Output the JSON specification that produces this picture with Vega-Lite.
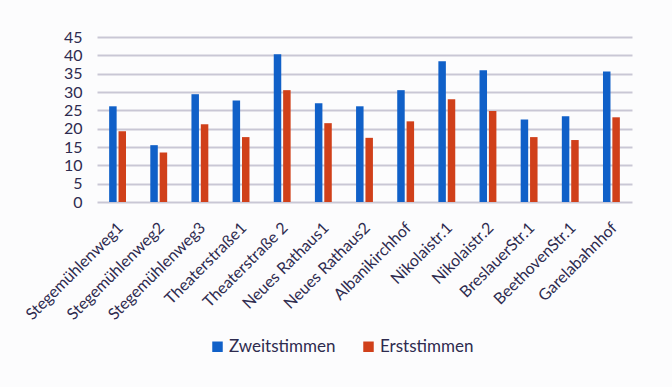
{
  "$schema": "https://vega.github.io/schema/vega-lite/v6.json",
  "autosize": {"type": "none"},
  "width": 535,
  "height": 165,
  "padding": {"left": 97, "top": 37, "right": 40, "bottom": 185},
  "background": "#fcfcfd",
  "config": {
    "view": {"stroke": null},
    "font": "Lato",
    "axis": {"labelColor": "#2e2b4f", "labelFont": "Lato"},
    "legend": {"labelColor": "#2e2b4f", "labelFont": "Lato"}
  },
  "data": {
    "values": [
      {"ort": "Stegemühlenweg1", "serie": "Zweitstimmen", "wert": 26.1},
      {"ort": "Stegemühlenweg1", "serie": "Erststimmen", "wert": 19.3},
      {"ort": "Stegemühlenweg2", "serie": "Zweitstimmen", "wert": 15.5},
      {"ort": "Stegemühlenweg2", "serie": "Erststimmen", "wert": 13.5},
      {"ort": "Stegemühlenweg3", "serie": "Zweitstimmen", "wert": 29.4},
      {"ort": "Stegemühlenweg3", "serie": "Erststimmen", "wert": 21.2},
      {"ort": "Theaterstraße1", "serie": "Zweitstimmen", "wert": 27.7},
      {"ort": "Theaterstraße1", "serie": "Erststimmen", "wert": 17.7},
      {"ort": "Theaterstraße 2", "serie": "Zweitstimmen", "wert": 40.3},
      {"ort": "Theaterstraße 2", "serie": "Erststimmen", "wert": 30.5},
      {"ort": "Neues Rathaus1", "serie": "Zweitstimmen", "wert": 26.9},
      {"ort": "Neues Rathaus1", "serie": "Erststimmen", "wert": 21.5},
      {"ort": "Neues Rathaus2", "serie": "Zweitstimmen", "wert": 26.1},
      {"ort": "Neues Rathaus2", "serie": "Erststimmen", "wert": 17.5},
      {"ort": "Albanikirchhof", "serie": "Zweitstimmen", "wert": 30.5},
      {"ort": "Albanikirchhof", "serie": "Erststimmen", "wert": 22.0},
      {"ort": "Nikolaistr.1", "serie": "Zweitstimmen", "wert": 38.4},
      {"ort": "Nikolaistr.1", "serie": "Erststimmen", "wert": 28.0},
      {"ort": "Nikolaistr.2", "serie": "Zweitstimmen", "wert": 35.9},
      {"ort": "Nikolaistr.2", "serie": "Erststimmen", "wert": 24.8},
      {"ort": "BreslauerStr.1", "serie": "Zweitstimmen", "wert": 22.5},
      {"ort": "BreslauerStr.1", "serie": "Erststimmen", "wert": 17.7},
      {"ort": "BeethovenStr.1", "serie": "Zweitstimmen", "wert": 23.4},
      {"ort": "BeethovenStr.1", "serie": "Erststimmen", "wert": 16.9},
      {"ort": "Garelabahnhof", "serie": "Zweitstimmen", "wert": 35.6},
      {"ort": "Garelabahnhof", "serie": "Erststimmen", "wert": 23.1}
    ]
  },
  "mark": {"type": "bar"},
  "encoding": {
    "x": {
      "field": "ort",
      "type": "nominal",
      "sort": null,
      "title": null,
      "scale": {"paddingInner": 0.59, "paddingOuter": 0.295},
      "axis": {
        "labelAngle": -45,
        "labelAlign": "right",
        "labelBaseline": "middle",
        "labelFontSize": 16,
        "labelPadding": 23,
        "labelOffset": 3,
        "ticks": false,
        "domain": false,
        "grid": false
      }
    },
    "xOffset": {
      "field": "serie",
      "type": "nominal",
      "sort": ["Zweitstimmen", "Erststimmen"],
      "scale": {"paddingInner": 0.2}
    },
    "y": {
      "field": "wert",
      "type": "quantitative",
      "title": null,
      "scale": {"domain": [0, 45], "nice": false},
      "axis": {
        "values": [0, 5, 10, 15, 20, 25, 30, 35, 40, 45],
        "labelFontSize": 16,
        "labelPadding": 15,
        "labelOverlap": false,
        "ticks": false,
        "domain": false,
        "gridColor": "#c9c7d5",
        "gridWidth": 2,
        "gridOpacity": 1
      }
    },
    "color": {
      "field": "serie",
      "type": "nominal",
      "sort": ["Zweitstimmen", "Erststimmen"],
      "scale": {"domain": ["Zweitstimmen", "Erststimmen"], "range": ["#1060c8", "#d0401a"]},
      "legend": {
        "title": null,
        "orient": "none",
        "direction": "horizontal",
        "legendX": 112,
        "legendY": 301,
        "symbolType": "square",
        "symbolSize": 110,
        "symbolStrokeWidth": 0,
        "symbolOpacity": 1,
        "labelFontSize": 17,
        "labelOffset": 3,
        "columnPadding": 24
      }
    }
  }
}
